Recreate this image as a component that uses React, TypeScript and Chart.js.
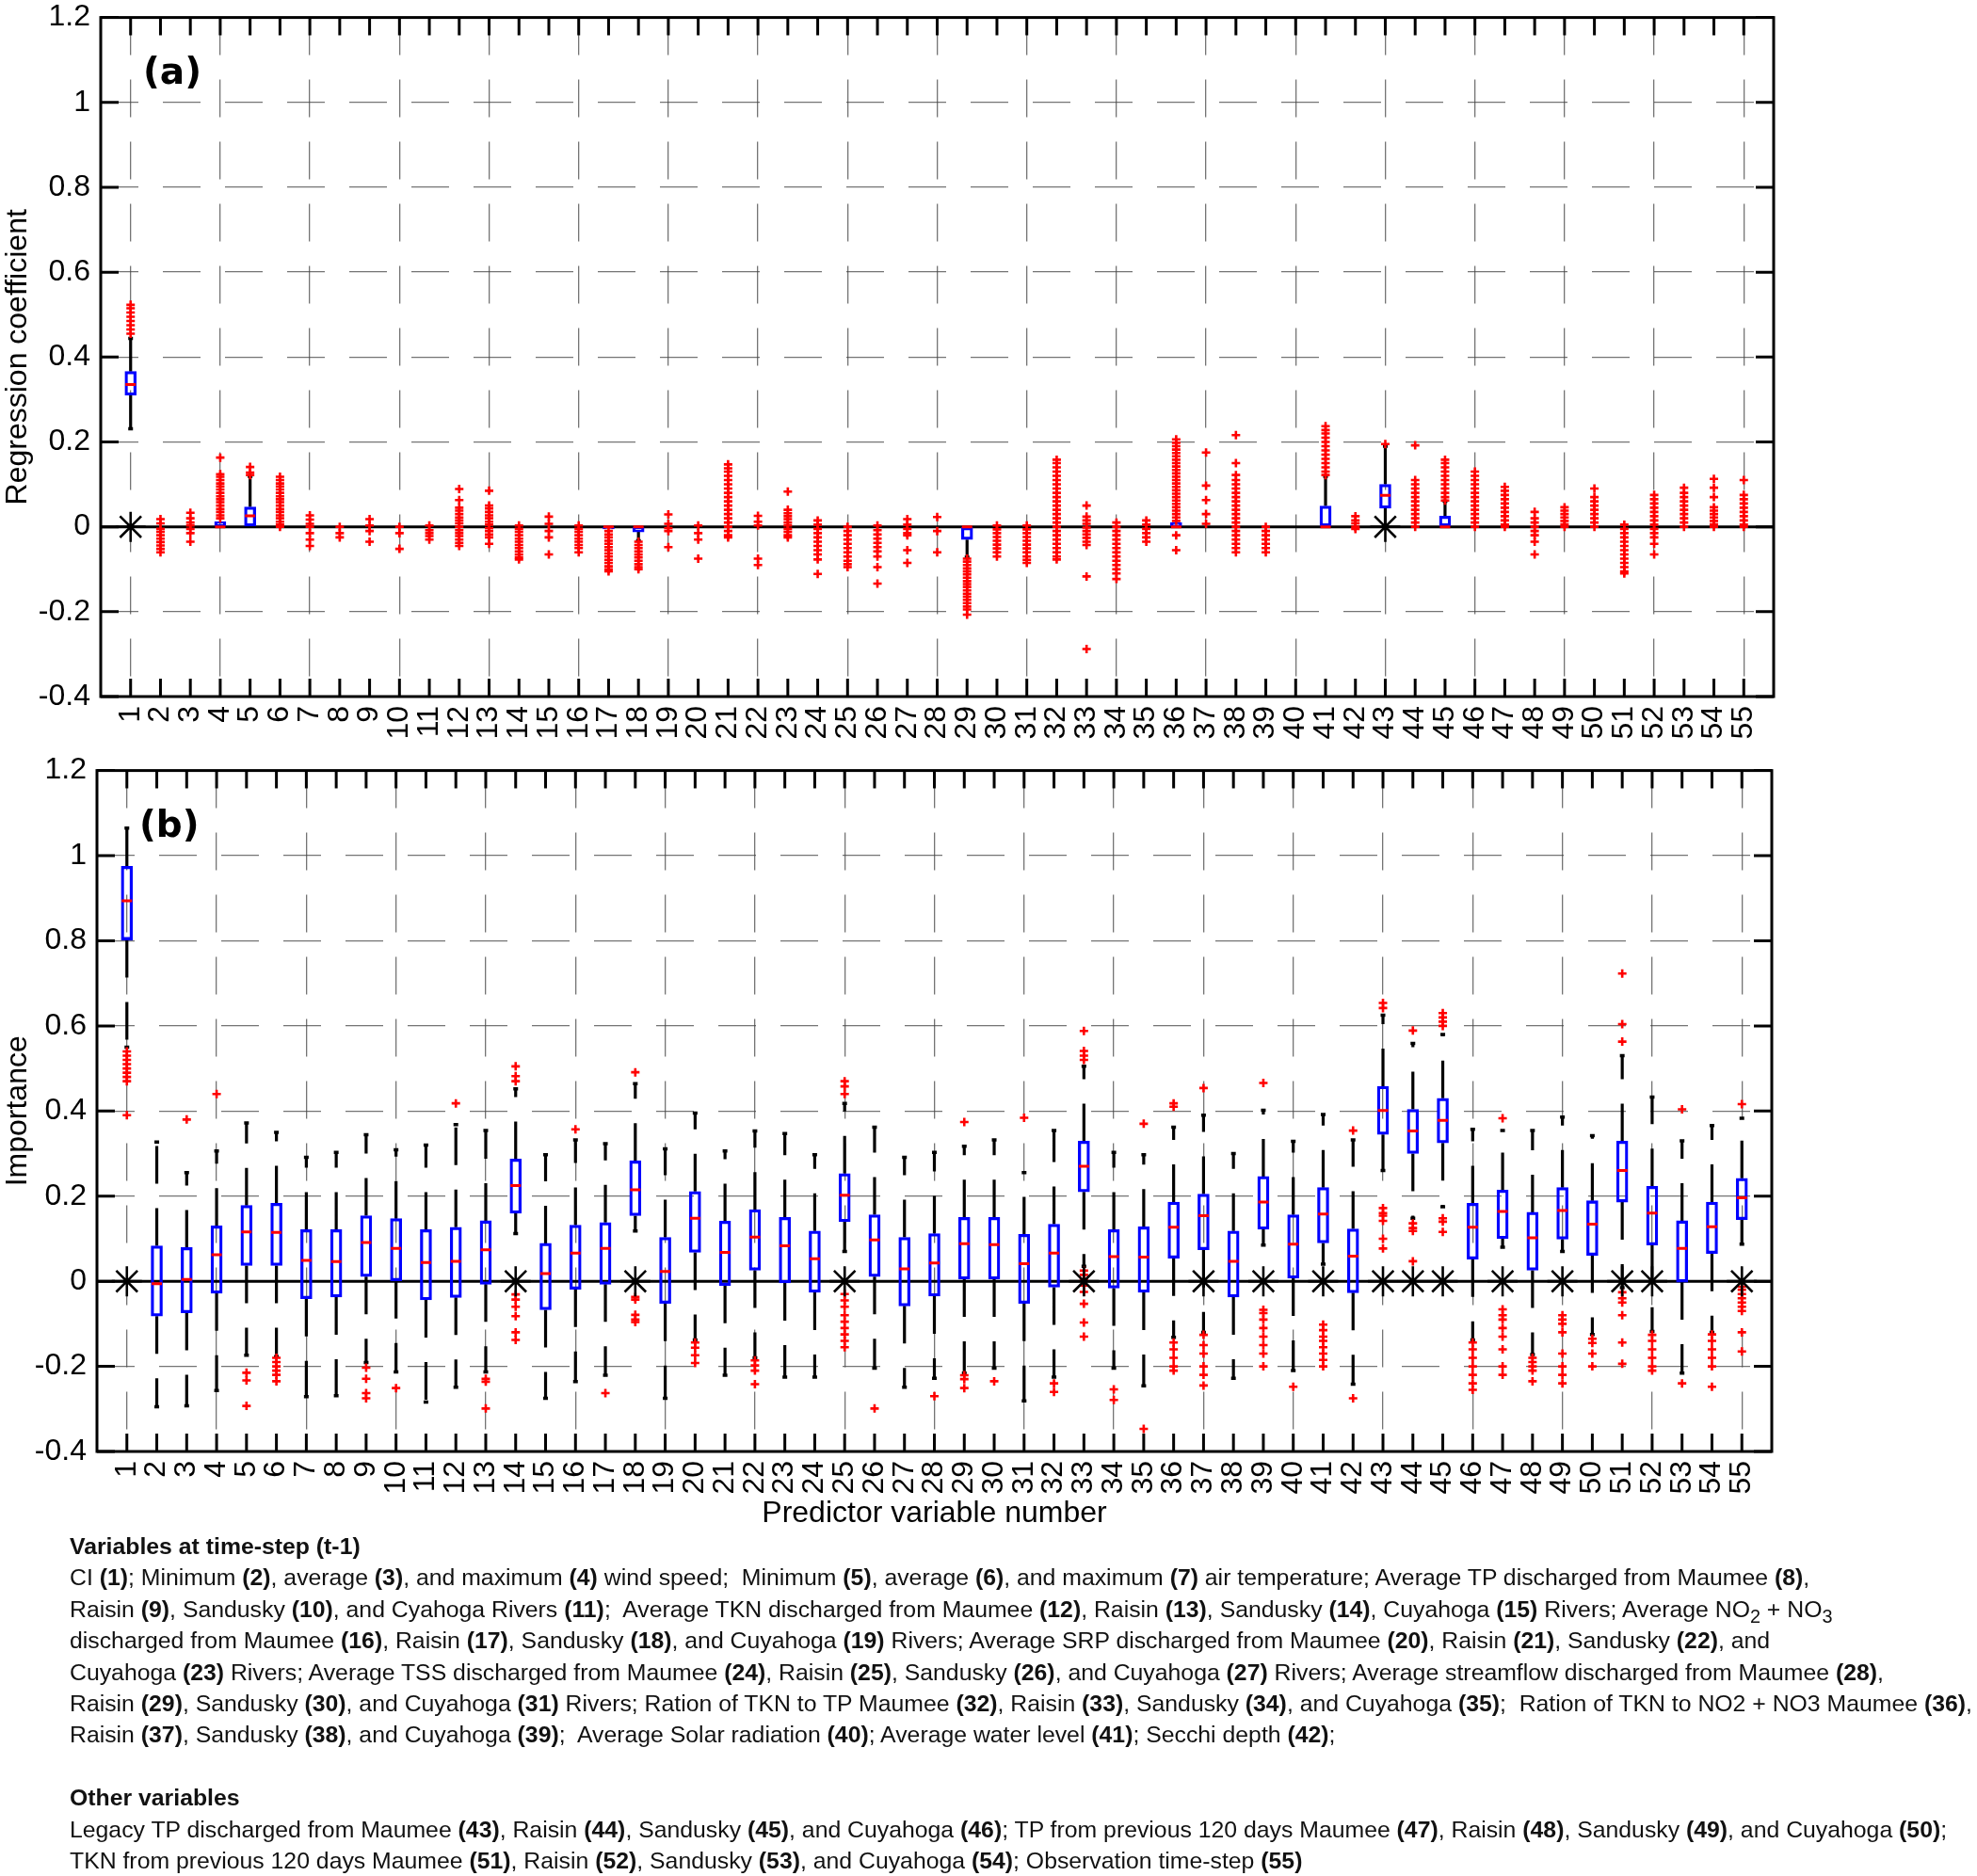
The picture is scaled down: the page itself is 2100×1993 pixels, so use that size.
import React, { useEffect, useRef } from 'react';
import { Chart, registerables } from 'chart.js';
Chart.register(...registerables);

// ---------------- data ----------------
const categories = [
  1, 2, 3, 4, 5, 6, 7, 8, 9, 10, 11, 12, 13, 14, 15, 16, 17, 18, 19, 20,
  21, 22, 23, 24, 25, 26, 27, 28, 29, 30, 31, 32, 33, 34, 35, 36, 37, 38, 39, 40,
  41, 42, 43, 44, 45, 46, 47, 48, 49, 50, 51, 52, 53, 54, 55,
];
const xGridValues = [1, 4, 7, 10, 13, 16, 19, 22, 25, 28, 31, 34, 37, 40, 43, 46, 49, 52, 55];
const yTickValues = [-0.4, -0.2, 0, 0.2, 0.4, 0.6, 0.8, 1, 1.2];
const yTickLabels = ['-0.4', '-0.2', '0', '0.2', '0.4', '0.6', '0.8', '1', '1.2'];
const yGridValues = [-0.2, 0.2, 0.4, 0.6, 0.8, 1];

// Panel (a): regression coefficient
const aQ1 = [
  0.31, 0, 0, 0, 0, 0, 0, 0, 0, 0,
  0, 0, 0, 0, 0, 0, -0.005, -0.012, 0, 0,
  0, 0, 0, 0, 0, 0, 0, 0, -0.03, 0,
  0, 0, 0, 0, 0, 0, 0, 0, 0, 0,
  0, 0, 0.044, 0, 0, 0, 0, 0, 0, 0,
  0, 0, 0, 0, 0,
];
const aMed = [
  0.335, 0, 0, 0, 0.026, 0, 0, 0, 0, 0,
  0, 0, 0, 0, 0, 0, 0, 0, 0, 0,
  0, 0, 0, 0, 0, 0, 0, 0, 0, 0,
  0, 0, 0, 0, 0, 0, 0, 0, 0, 0,
  0, 0, 0.074, 0, 0, 0, 0, 0, 0, 0,
  0, 0, 0, 0, 0,
];
const aQ3 = [
  0.366, 0, 0, 0.012, 0.047, 0, 0, 0, 0, 0,
  0, 0, 0, 0, 0, 0, 0, 0, 0, 0,
  0, 0, 0, 0, 0, 0, 0, 0, 0, 0,
  0, 0, 0, 0, 0, 0.01, 0, 0, 0, 0,
  0.049, 0, 0.1, 0, 0.025, 0, 0, 0, 0, 0,
  0, 0, 0, 0, 0,
];
const aLo = [
  0.231, 0, 0, 0, 0, 0, 0, 0, 0, 0,
  0, 0, 0, 0, 0, 0, -0.005, -0.033, 0, 0,
  0, 0, 0, 0, 0, 0, 0, 0, -0.072, 0,
  0, 0, 0, 0, 0, 0, 0, 0, 0, 0,
  0, 0, 0, 0, 0, 0, 0, 0, 0, 0,
  0, 0, 0, 0, 0,
];
const aHi = [
  0.444, 0, 0, 0.012, 0.119, 0, 0, 0, 0, 0,
  0, 0, 0, 0, 0, 0, 0, 0, 0, 0,
  0, 0, 0, 0, 0, 0, 0, 0, 0, 0,
  0, 0, 0, 0, 0, 0.01, 0, 0, 0, 0,
  0.119, 0, 0.19, 0, 0.06, 0, 0, 0, 0, 0,
  0, 0, 0, 0, 0,
];
const aOut: number[][] = [
  [0.523, 0.515, 0.505, 0.495, 0.485, 0.475, 0.465, 0.455],
  [0.018, 0.008, -0.005, -0.012, -0.02, -0.028, -0.036, -0.044, -0.052, -0.06],
  [0.033, 0.02, 0.01, 0.003, -0.005, -0.015, -0.035],
  [0.163, 0.124, 0.118, 0.11, 0.102, 0.095, 0.088, 0.08, 0.072, 0.065, 0.058, 0.05, 0.042, 0.035, 0.027, 0.02],
  [0.141, 0.128, 0.122],
  [0.118, 0.11, 0.102, 0.095, 0.088, 0.08, 0.072, 0.065, 0.058, 0.05, 0.042, 0.035, 0.027, 0.02, 0.012, 0.005, 0],
  [0.027, 0.017, 0.007, 0.0, -0.015, -0.03, -0.045],
  [0.0, -0.015, -0.025],
  [0.018, 0.003, -0.01, -0.035],
  [0.0, -0.015, -0.052],
  [0.003, -0.008, -0.015, -0.022, -0.03],
  [0.089, 0.063, 0.045, 0.038, 0.03, 0.022, 0.015, 0.008, 0, -0.008, -0.015, -0.022, -0.03, -0.038, -0.045],
  [0.085, 0.05, 0.043, 0.035, 0.027, 0.02, 0.012, 0.005, -0.003, -0.01, -0.018, -0.025, -0.04],
  [0.003, -0.005, -0.012, -0.02, -0.028, -0.035, -0.043, -0.05, -0.058, -0.065, -0.072, -0.077],
  [0.024, 0.007, -0.01, -0.025, -0.065],
  [0.003, -0.005, -0.012, -0.02, -0.028, -0.035, -0.043, -0.05, -0.06],
  [-0.01, -0.018, -0.025, -0.033, -0.04, -0.048, -0.055, -0.063, -0.07, -0.078, -0.085, -0.093, -0.1, -0.105],
  [-0.035, -0.043, -0.05, -0.058, -0.065, -0.072, -0.08, -0.088, -0.095, -0.1],
  [0.029, 0.007, -0.003, -0.01, -0.048],
  [0.003, -0.015, -0.03, -0.075],
  [0.147, 0.138, 0.13, 0.12, 0.11, 0.1, 0.09, 0.08, 0.07, 0.06, 0.05, 0.04, 0.03, 0.02, 0.01, 0, -0.01, -0.02, -0.025],
  [0.026, 0.012, 0.003, -0.075, -0.09],
  [0.083, 0.04, 0.032, 0.025, 0.018, 0.01, 0.003, -0.005, -0.012, -0.02, -0.025],
  [0.015, 0.005, -0.005, -0.015, -0.025, -0.035, -0.045, -0.055, -0.065, -0.077, -0.111],
  [0.0, -0.01, -0.02, -0.03, -0.04, -0.05, -0.06, -0.07, -0.08, -0.088, -0.095],
  [0.003, -0.008, -0.018, -0.028, -0.038, -0.048, -0.058, -0.07, -0.095, -0.134],
  [0.018, 0.005, -0.005, -0.015, -0.02, -0.055, -0.085],
  [0.023, -0.01, -0.06],
  [-0.075, -0.082, -0.09, -0.098, -0.105, -0.112, -0.12, -0.128, -0.135, -0.142, -0.15, -0.158, -0.165, -0.172, -0.18, -0.188, -0.195, -0.207],
  [0.003, -0.006, -0.015, -0.024, -0.033, -0.042, -0.051, -0.06, -0.07],
  [0.003, -0.006, -0.015, -0.024, -0.033, -0.042, -0.051, -0.06, -0.07, -0.078, -0.085],
  [0.158, 0.15, 0.14, 0.13, 0.12, 0.11, 0.1, 0.09, 0.08, 0.07, 0.06, 0.05, 0.04, 0.03, 0.02, 0.01, 0, -0.01, -0.02, -0.03, -0.04, -0.05, -0.06, -0.07, -0.077],
  [0.05, 0.024, 0.015, 0.007, -0.002, -0.01, -0.018, -0.026, -0.035, -0.043, -0.117, -0.288],
  [0.01, 0.0, -0.01, -0.02, -0.03, -0.04, -0.05, -0.06, -0.07, -0.08, -0.09, -0.1, -0.11, -0.123],
  [0.015, 0.005, -0.005, -0.015, -0.025, -0.035],
  [0.206, 0.198, 0.19, 0.182, 0.174, 0.166, 0.158, 0.15, 0.142, 0.134, 0.126, 0.118, 0.11, 0.102, 0.094, 0.086, 0.078, 0.07, 0.062, 0.054, 0.046, 0.038, 0.03, 0.022, 0.014, -0.02, -0.055],
  [0.175, 0.097, 0.063, 0.03, 0.007],
  [0.216, 0.15, 0.122, 0.11, 0.1, 0.09, 0.08, 0.07, 0.06, 0.05, 0.04, 0.03, 0.02, 0.01, 0, -0.01, -0.02, -0.03, -0.04, -0.05, -0.06],
  [0.0, -0.01, -0.02, -0.03, -0.04, -0.05, -0.06],
  [],
  [0.237, 0.228, 0.22, 0.21, 0.2, 0.19, 0.18, 0.17, 0.16, 0.15, 0.14, 0.13, 0.122],
  [0.025, 0.015, 0.008, 0.0, -0.005],
  [0.195],
  [0.192, 0.11, 0.1, 0.09, 0.08, 0.07, 0.06, 0.05, 0.04, 0.03, 0.02, 0.01, 0],
  [0.158, 0.15, 0.14, 0.13, 0.12, 0.11, 0.1, 0.09, 0.08, 0.07, 0.062],
  [0.13, 0.12, 0.11, 0.1, 0.09, 0.08, 0.07, 0.06, 0.05, 0.04, 0.03, 0.02, 0.01, 0],
  [0.094, 0.085, 0.075, 0.065, 0.055, 0.045, 0.035, 0.025, 0.015, 0.005, 0],
  [0.035, 0.02, 0.01, 0.0, -0.01, -0.02, -0.035, -0.065],
  [0.046, 0.038, 0.03, 0.022, 0.014, 0.006, 0],
  [0.09, 0.07, 0.06, 0.05, 0.04, 0.03, 0.02, 0.01, 0],
  [0.005, -0.005, -0.015, -0.025, -0.035, -0.045, -0.055, -0.065, -0.075, -0.085, -0.095, -0.105, -0.11],
  [0.075, 0.065, 0.055, 0.045, 0.035, 0.025, 0.015, 0.005, -0.005, -0.015, -0.025, -0.04, -0.065],
  [0.092, 0.08, 0.07, 0.06, 0.05, 0.04, 0.03, 0.02, 0.01, 0],
  [0.113, 0.092, 0.07, 0.046, 0.038, 0.03, 0.022, 0.014, 0.006, 0],
  [0.11, 0.075, 0.065, 0.055, 0.045, 0.035, 0.025, 0.015, 0.005, 0],
];
const aStars = [1, 43];

// Panel (b): importance
const bQ1 = [
  0.802, -0.082, -0.074, -0.028, 0.037, 0.037, -0.041, -0.037, 0.011, 0.001,
  -0.044, -0.038, -0.007, 0.16, -0.067, -0.019, -0.007, 0.154, -0.052, 0.068,
  -0.01, 0.026, -0.004, -0.026, 0.14, 0.011, -0.058, -0.035, 0.005, 0.005,
  -0.052, -0.014, 0.21, -0.016, -0.026, 0.054, 0.074, -0.037, 0.122, 0.007,
  0.09, -0.027, 0.345, 0.3, 0.325, 0.052, 0.1, 0.026, 0.099, 0.061,
  0.186, 0.085, -0.002, 0.065, 0.145,
];
const bMed = [
  0.894, -0.006, 0.004, 0.062, 0.116, 0.115, 0.049, 0.046, 0.091, 0.077,
  0.044, 0.047, 0.074, 0.225, 0.018, 0.066, 0.077, 0.215, 0.023, 0.148,
  0.068, 0.104, 0.083, 0.053, 0.202, 0.097, 0.029, 0.043, 0.088, 0.086,
  0.041, 0.066, 0.27, 0.058, 0.057, 0.127, 0.154, 0.047, 0.186, 0.087,
  0.158, 0.059, 0.401, 0.353, 0.378, 0.127, 0.164, 0.102, 0.166, 0.134,
  0.26, 0.16, 0.077, 0.128, 0.196,
];
const bQ3 = [
  0.975, 0.083, 0.079, 0.13, 0.178, 0.183, 0.121, 0.121, 0.154, 0.147,
  0.121, 0.127, 0.142, 0.287, 0.089, 0.132, 0.138, 0.283, 0.103, 0.211,
  0.141, 0.168, 0.15, 0.118, 0.253, 0.156, 0.103, 0.112, 0.15, 0.15,
  0.11, 0.134, 0.329, 0.121, 0.128, 0.186, 0.205, 0.118, 0.246, 0.156,
  0.22, 0.123, 0.458, 0.404, 0.43, 0.183, 0.214, 0.162, 0.22, 0.189,
  0.329, 0.223, 0.142, 0.186, 0.242,
];
const bLo = [
  0.55, -0.295, -0.293, -0.257, -0.174, -0.177, -0.271, -0.269, -0.191, -0.213,
  -0.284, -0.249, -0.213, 0.112, -0.275, -0.236, -0.221, 0.118, -0.275, -0.138,
  -0.221, -0.18, -0.225, -0.225, 0.07, -0.204, -0.249, -0.228, -0.216, -0.204,
  -0.281, -0.225, 0.035, -0.204, -0.246, -0.132, -0.12, -0.228, 0.085, -0.21,
  0.04, -0.242, 0.26, 0.148, 0.175, -0.138, 0.08, -0.172, 0.07, -0.125,
  -0.015, -0.118, -0.216, -0.12, 0.087,
];
const bHi = [
  1.065, 0.327, 0.255, 0.306, 0.372, 0.35, 0.291, 0.303, 0.344, 0.309,
  0.32, 0.368, 0.354, 0.452, 0.297, 0.332, 0.323, 0.464, 0.311, 0.395,
  0.306, 0.353, 0.347, 0.297, 0.418, 0.362, 0.291, 0.303, 0.317, 0.332,
  0.255, 0.354, 0.505, 0.303, 0.297, 0.362, 0.39, 0.3, 0.402, 0.329,
  0.392, 0.332, 0.625, 0.559, 0.58, 0.357, 0.354, 0.354, 0.386, 0.342,
  0.53, 0.433, 0.33, 0.366, 0.383,
];
const bOut: number[][] = [
  [0.54, 0.53, 0.52, 0.51, 0.5, 0.49, 0.48, 0.47, 0.39],
  [],
  [0.38],
  [0.44],
  [-0.215, -0.233, -0.293],
  [-0.18, -0.19, -0.2, -0.21, -0.22, -0.235],
  [],
  [],
  [-0.203, -0.229, -0.263, -0.275],
  [-0.251],
  [],
  [0.418],
  [-0.229, -0.236, -0.299],
  [0.505, 0.482, 0.47, -0.031, -0.043, -0.06, -0.082, -0.12, -0.138],
  [],
  [0.357],
  [-0.263],
  [0.491, -0.037, -0.043, -0.079, -0.09, -0.096],
  [],
  [-0.144, -0.156, -0.174, -0.192],
  [],
  [-0.186, -0.198, -0.21, -0.242],
  [],
  [],
  [0.47, 0.458, 0.44, -0.03, -0.045, -0.06, -0.08, -0.095, -0.11, -0.125, -0.14, -0.155],
  [-0.299],
  [],
  [-0.27],
  [0.374, -0.221, -0.23, -0.251],
  [-0.235],
  [0.384],
  [-0.24, -0.26],
  [0.588, 0.541, 0.53, 0.52, 0.025, 0.015, 0.005, -0.01, -0.025, -0.053, -0.097, -0.13],
  [-0.254, -0.279],
  [0.37, -0.347],
  [0.418, 0.41, -0.144, -0.16, -0.18, -0.2, -0.21],
  [0.454, -0.126, -0.15, -0.17, -0.2, -0.22, -0.245],
  [],
  [0.466, -0.067, -0.075, -0.09, -0.11, -0.13, -0.15, -0.17, -0.2],
  [-0.248],
  [-0.102, -0.115, -0.13, -0.14, -0.155, -0.17, -0.185, -0.2],
  [0.354, -0.275],
  [0.654, 0.642, 0.172, 0.16, 0.154, 0.142, 0.1, 0.077],
  [0.589, 0.136, 0.125, 0.118, 0.047],
  [0.63, 0.62, 0.61, 0.6, 0.148, 0.14, 0.116],
  [-0.144, -0.16, -0.18, -0.2, -0.22, -0.24, -0.255],
  [0.383, -0.066, -0.08, -0.09, -0.11, -0.13, -0.16, -0.2, -0.22],
  [-0.18, -0.19, -0.2, -0.21, -0.235],
  [-0.08, -0.09, -0.1, -0.12, -0.17, -0.2, -0.22, -0.24],
  [-0.135, -0.145, -0.17, -0.2],
  [0.723, 0.604, 0.563, -0.026, -0.04, -0.05, -0.08, -0.144, -0.194],
  [-0.126, -0.14, -0.16, -0.18, -0.2, -0.21],
  [0.404, -0.24],
  [-0.125, -0.14, -0.16, -0.18, -0.2, -0.248],
  [0.416, -0.013, -0.02, -0.03, -0.04, -0.05, -0.06, -0.07, -0.12, -0.165],
];
const bStars = [1, 14, 18, 25, 33, 37, 39, 41, 43, 44, 45, 47, 49, 51, 52, 55];

// caption text
const captionLines = [
  'Variables at time-step (t-1)',
  'CI (1); Minimum (2), average (3), and maximum (4) wind speed;  Minimum (5), average (6), and maximum (7) air temperature; Average TP discharged from Maumee (8),',
  'Raisin (9), Sandusky (10), and Cyahoga Rivers (11);  Average TKN discharged from Maumee (12), Raisin (13), Sandusky (14), Cuyahoga (15) Rivers; Average NO_2 + NO_3',
  'discharged from Maumee (16), Raisin (17), Sandusky (18), and Cuyahoga (19) Rivers; Average SRP discharged from Maumee (20), Raisin (21), Sandusky (22), and',
  'Cuyahoga (23) Rivers; Average TSS discharged from Maumee (24), Raisin (25), Sandusky (26), and Cuyahoga (27) Rivers; Average streamflow discharged from Maumee (28),',
  'Raisin (29), Sandusky (30), and Cuyahoga (31) Rivers; Ration of TKN to TP Maumee (32), Raisin (33), Sandusky (34), and Cuyahoga (35);  Ration of TKN to NO2 + NO3 Maumee (36),',
  'Raisin (37), Sandusky (38), and Cuyahoga (39);  Average Solar radiation (40); Average water level (41); Secchi depth (42);',
  '',
  'Other variables',
  'Legacy TP discharged from Maumee (43), Raisin (44), Sandusky (45), and Cuyahoga (46); TP from previous 120 days Maumee (47), Raisin (48), Sandusky (49), and Cuyahoga (50);',
  'TKN from previous 120 days Maumee (51), Raisin (52), Sandusky (53), and Cuyahoga (54); Observation time-step (55)',
];
const captionHeadings = [0, 8];

// ---------------- rendering ----------------
const FONT = '"Liberation Sans", Arial, Helvetica, sans-serif';
const GRID = 'rgba(70,70,70,0.75)';
const DASH = [40, 26];

const framePlugin = {
  id: 'frame',
  afterDraw(chart: any, _args: any, opts: any) {
    const { ctx, chartArea: a, scales } = chart;
    const x = scales.x;
    const y = scales.y;
    const TL = 19;
    ctx.save();
    ctx.strokeStyle = '#000';
    ctx.lineWidth = 3;
    ctx.beginPath();
    for (const c of categories) {
      const px = x.getPixelForValue(c);
      ctx.moveTo(px, a.bottom);
      ctx.lineTo(px, a.bottom - TL);
      ctx.moveTo(px, a.top);
      ctx.lineTo(px, a.top + TL);
    }
    for (const v of yTickValues) {
      const py = y.getPixelForValue(v);
      ctx.moveTo(a.left, py);
      ctx.lineTo(a.left + TL, py);
      ctx.moveTo(a.right, py);
      ctx.lineTo(a.right - TL, py);
    }
    ctx.stroke();
    ctx.strokeRect(a.left, a.top, a.right - a.left, a.bottom - a.top);
    ctx.fillStyle = '#000';
    ctx.font = 'bold 39px "DejaVu Sans", Verdana, sans-serif';
    ctx.textBaseline = 'alphabetic';
    ctx.textAlign = 'left';
    ctx.fillText(opts.label, a.left + 45, a.top + 70);
    ctx.restore();
  },
};

function buildDatasets(q1: number[], med: number[], q3: number[], lo: number[], hi: number[], out: number[][], stars: number[]) {
  const boxes: any[] = [];
  const meds: any[] = [];
  const whisk: any[] = [];
  const caps: any[] = [];
  const outs: any[] = [];
  categories.forEach((c, i) => {
    if (q3[i] - q1[i] > 0.002) {
      boxes.push({ x: c, y: [q1[i], q3[i]] });
      meds.push({ x: c, y: med[i] });
    }
    if (hi[i] - q3[i] > 0.002) {
      whisk.push({ x: c, y: q3[i] }, { x: c, y: hi[i] }, { x: c, y: null });
      caps.push({ x: c, y: hi[i] });
    }
    if (q1[i] - lo[i] > 0.002) {
      whisk.push({ x: c, y: q1[i] }, { x: c, y: lo[i] }, { x: c, y: null });
      caps.push({ x: c, y: lo[i] });
    }
    out[i].forEach((v) => outs.push({ x: c, y: v }));
  });
  const starPts = stars.map((c) => ({ x: c, y: 0 }));
  return [
    {
      type: 'scatter', label: 'zero', data: [{ x: 0, y: 0 }, { x: 56, y: 0 }], showLine: true,
      borderColor: '#000', borderWidth: 3, pointRadius: 0, order: 10,
    },
    {
      type: 'scatter', label: 'whiskers', data: whisk, showLine: true, spanGaps: false,
      borderColor: '#000', borderWidth: 3.2, borderDash: DASH, pointRadius: 0, order: 9,
    },
    {
      type: 'bar', label: 'box', data: boxes, barThickness: 12, borderColor: '#0000ff',
      backgroundColor: 'rgba(0,0,0,0)', borderWidth: 2.6, borderSkipped: false, order: 8,
    },
    {
      type: 'scatter', label: 'median', data: meds, pointStyle: 'line', pointRadius: 5.5,
      pointBorderColor: '#ff0000', pointBorderWidth: 3, borderColor: '#ff0000', order: 7,
    },
    {
      type: 'scatter', label: 'caps', data: caps, pointStyle: 'line', pointRadius: 2.5,
      pointBorderColor: '#000', pointBorderWidth: 3.5, borderColor: '#000', order: 6,
    },
    {
      type: 'scatter', label: 'outliers', data: outs, pointStyle: 'cross', pointRadius: 4.5,
      pointBorderColor: '#ff0000', pointBorderWidth: 2.6, borderColor: '#ff0000', order: 5,
    },
    {
      type: 'scatter', label: 'stars', data: starPts, pointStyle: 'star', pointRadius: 16,
      pointBorderColor: '#000', pointBorderWidth: 2.6, borderColor: '#000', order: 4,
    },
  ];
}

function makeConfig(p: any) {
  return {
    type: 'scatter',
    data: { datasets: buildDatasets(p.q1, p.med, p.q3, p.lo, p.hi, p.out, p.stars) },
    plugins: [framePlugin],
    options: {
      responsive: false,
      animation: false,
      events: [],
      devicePixelRatio: 1,
      layout: { padding: { top: p.padTop, right: p.padRight, left: 0, bottom: 0 } },
      plugins: {
        legend: { display: false },
        tooltip: { enabled: false },
        frame: { label: p.label },
      },
      scales: {
        x: {
          type: 'linear', min: 0, max: 56, offset: false,
          afterFit: (s: any) => {
            s.height = p.xHeight;
            s.paddingLeft = 0;
            s.paddingRight = 0;
            s.paddingTop = 0;
            s.paddingBottom = 0;
          },
          afterBuildTicks: (s: any) => { s.ticks = categories.map((v) => ({ value: v })); },
          ticks: {
            stepSize: 1, autoSkip: false, minRotation: 90, maxRotation: 90, padding: 10,
            color: '#000', font: { family: FONT, size: 32 },
            callback: (v: any) => String(v),
          },
          grid: {
            offset: false, drawTicks: false, lineWidth: 1.3,
            color: (c: any) => (c.tick && xGridValues.includes(c.tick.value) ? GRID : 'rgba(0,0,0,0)'),
          },
          border: { display: false, dash: DASH },
          title: p.xTitle
            ? { display: true, text: p.xTitle, color: '#000', font: { family: FONT, size: 32 }, padding: 0 }
            : { display: false },
        },
        y: {
          type: 'linear', min: -0.4, max: 1.2,
          afterFit: (s: any) => {
            s.width = p.yWidth;
            s.paddingTop = 0;
            s.paddingBottom = 0;
            s.paddingLeft = 0;
            s.paddingRight = 0;
          },
          afterBuildTicks: (s: any) => { s.ticks = yTickValues.map((v) => ({ value: v })); },
          ticks: {
            stepSize: 0.2, padding: 11, color: '#000', font: { family: FONT, size: 32 },
            callback: (v: any) => {
              const i = yTickValues.findIndex((t) => Math.abs(t - v) < 1e-9);
              return i >= 0 ? yTickLabels[i] : '';
            },
          },
          grid: {
            drawTicks: false, lineWidth: 1.3,
            color: (c: any) => (c.tick && yGridValues.some((g) => Math.abs(g - c.tick.value) < 1e-9) ? GRID : 'rgba(0,0,0,0)'),
          },
          border: { display: false, dash: DASH },
          title: { display: true, text: p.yTitle, color: '#000', font: { family: FONT, size: 32 }, padding: 0 },
        },
      },
    },
  };
}

function Panel(props: any) {
  const ref = useRef<HTMLCanvasElement | null>(null);
  useEffect(() => {
    if (!ref.current) return;
    const chart = new Chart(ref.current, makeConfig(props.p) as any);
    return () => chart.destroy();
  }, []);
  return (
    <canvas
      ref={ref}
      width={props.w}
      height={props.h}
      style={{ position: 'absolute', left: props.left, top: props.top, width: props.w, height: props.h }}
    />
  );
}

function renderSegment(s: string, key: number) {
  const parts = s.split(/(_\d)/);
  return (
    <span key={key}>
      {parts.map((q, j) =>
        /^_\d$/.test(q) ? (
          <span key={j} style={{ fontSize: '0.8em', verticalAlign: '-0.3em', lineHeight: 0 }}>{q.slice(1)}</span>
        ) : (
          <React.Fragment key={j}>{q}</React.Fragment>
        ),
      )}
    </span>
  );
}

function renderLine(s: string) {
  const parts = s.split(/(\(\d+\))/);
  return parts.map((q, i) => (/^\(\d+\)$/.test(q) ? <b key={i}>{q}</b> : renderSegment(q, i)));
}

export default function App() {
  const pa = {
    q1: aQ1, med: aMed, q3: aQ3, lo: aLo, hi: aHi, out: aOut, stars: aStars,
    label: '(a)', yTitle: 'Regression coefficient', xTitle: '',
    padTop: 13, padRight: 216, yWidth: 107, xHeight: 60,
  };
  const pb = {
    q1: bQ1, med: bMed, q3: bQ3, lo: bLo, hi: bHi, out: bOut, stars: bStars,
    label: '(b)', yTitle: 'Importance', xTitle: 'Predictor variable number',
    padTop: 14, padRight: 218, yWidth: 103, xHeight: 85,
  };
  return (
    <div style={{ position: 'absolute', left: 0, top: 0, width: 2100, height: 1993, background: '#fff' }}>
      <Panel p={pa} w={2100} h={800} left={0} top={0} />
      <Panel p={pb} w={2100} h={827} left={0} top={800} />
      <div
        style={{
          position: 'absolute', left: 74, top: 1626, fontFamily: FONT, fontSize: 24.8,
          lineHeight: '33.4px', color: '#111', whiteSpace: 'pre',
        }}
      >
        {captionLines.map((line, i) => (
          <div key={i} style={{ height: 33.4, fontWeight: captionHeadings.includes(i) ? 'bold' : 'normal' }}>
            {captionHeadings.includes(i) ? line : renderLine(line)}
          </div>
        ))}
      </div>
    </div>
  );
}
